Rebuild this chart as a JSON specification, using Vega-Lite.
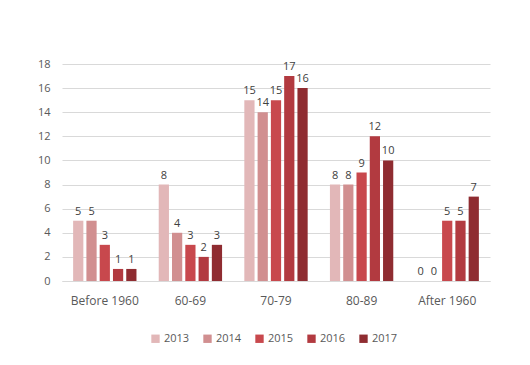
{
  "$schema": "https://vega.github.io/schema/vega-lite/v6.json",
  "width": 428,
  "height": 217,
  "autosize": "none",
  "padding": {"left": 62, "top": 64, "right": 40, "bottom": 84},
  "background": "white",
  "config": {
    "font": "Open Sans",
    "view": {"stroke": null}
  },
  "data": {
    "values": [
      {"cat": "Before 1960", "year": "2013", "n": 5},
      {"cat": "Before 1960", "year": "2014", "n": 5},
      {"cat": "Before 1960", "year": "2015", "n": 3},
      {"cat": "Before 1960", "year": "2016", "n": 1},
      {"cat": "Before 1960", "year": "2017", "n": 1},
      {"cat": "60-69", "year": "2013", "n": 8},
      {"cat": "60-69", "year": "2014", "n": 4},
      {"cat": "60-69", "year": "2015", "n": 3},
      {"cat": "60-69", "year": "2016", "n": 2},
      {"cat": "60-69", "year": "2017", "n": 3},
      {"cat": "70-79", "year": "2013", "n": 15},
      {"cat": "70-79", "year": "2014", "n": 14},
      {"cat": "70-79", "year": "2015", "n": 15},
      {"cat": "70-79", "year": "2016", "n": 17},
      {"cat": "70-79", "year": "2017", "n": 16},
      {"cat": "80-89", "year": "2013", "n": 8},
      {"cat": "80-89", "year": "2014", "n": 8},
      {"cat": "80-89", "year": "2015", "n": 9},
      {"cat": "80-89", "year": "2016", "n": 12},
      {"cat": "80-89", "year": "2017", "n": 10},
      {"cat": "After 1960", "year": "2013", "n": 0},
      {"cat": "After 1960", "year": "2014", "n": 0},
      {"cat": "After 1960", "year": "2015", "n": 5},
      {"cat": "After 1960", "year": "2016", "n": 5},
      {"cat": "After 1960", "year": "2017", "n": 7}
    ]
  },
  "encoding": {
    "x": {
      "field": "cat",
      "type": "nominal",
      "sort": ["Before 1960", "60-69", "70-79", "80-89", "After 1960"],
      "scale": {"paddingInner": 0.26, "paddingOuter": 0.13},
      "axis": {
        "title": null,
        "labelAngle": 0,
        "ticks": false,
        "domain": true,
        "domainColor": "#d9d9d9",
        "labelPadding": 14,
        "labelFontSize": 12,
        "labelColor": "#595959"
      }
    },
    "xOffset": {"field": "year", "type": "nominal", "scale": {"paddingInner": 0.23}},
    "y": {
      "field": "n",
      "type": "quantitative",
      "scale": {"domain": [0, 18]},
      "axis": {
        "title": null,
        "values": [0, 2, 4, 6, 8, 10, 12, 14, 16, 18],
        "ticks": false,
        "domain": false,
        "gridColor": "#d9d9d9",
        "labelPadding": 12,
        "labelFontSize": 11,
        "labelColor": "#595959"
      }
    }
  },
  "layer": [
    {
      "mark": {"type": "bar"},
      "encoding": {
        "color": {
          "field": "year",
          "type": "nominal",
          "scale": {
            "domain": ["2013", "2014", "2015", "2016", "2017"],
            "range": ["#e2b7b8", "#d18f90", "#c8484d", "#b23a40", "#8f2c31"]
          },
          "legend": {
            "title": null,
            "orient": "none",
            "direction": "horizontal",
            "legendX": 88,
            "legendY": 269,
            "symbolType": "square",
            "symbolSize": 70,
            "symbolStrokeWidth": 0,
            "labelFontSize": 11,
            "labelColor": "#595959",
            "columnPadding": 12,
            "labelOffset": 3
          }
        }
      }
    },
    {
      "mark": {"type": "text", "dy": -9, "fontSize": 11, "color": "#404040"},
      "encoding": {"text": {"field": "n", "type": "quantitative"}}
    }
  ]
}
